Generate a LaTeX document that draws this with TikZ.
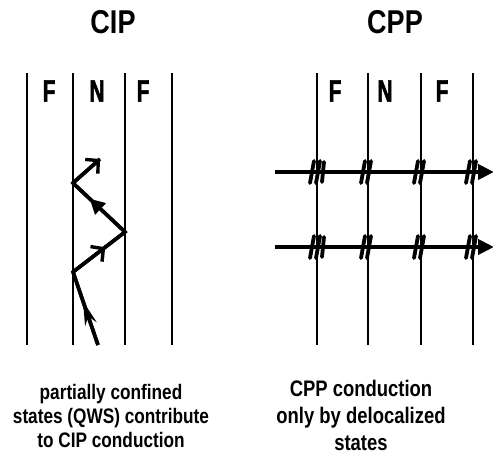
\documentclass[tikz,border=0pt]{standalone}
\usepackage{fontspec}
\setmainfont{Liberation Sans}[FakeStretch=0.82]
\newfontfamily\regionfont{Liberation Sans}[UprightFont={* Bold}, FakeStretch=0.66, FakeBold=2]
\usetikzlibrary{arrows.meta,decorations.markings}

\begin{document}
\begin{tikzpicture}[x=1pt,y=-1pt,
  layer/.style={line width=1.4pt},
  ray/.style={line width=3.6pt, line join=miter, line cap=butt},
  flow/.style={line width=4pt, -{Triangle[length=16pt,width=15pt]}},
  brk/.style={line width=3.8pt, line cap=round},
  title/.style={font=\bfseries\fontsize{33}{38}\selectfont},
  region/.style={font=\regionfont\fontsize{31}{34}\selectfont, inner sep=0pt},
  caption/.style={align=center, font=\bfseries\fontsize{21}{24}\selectfont},
  captionR/.style={align=center, font=\bfseries\fontsize{22.5}{27}\selectfont},
  midarrow/.style 2 args={postaction={decorate},
    decoration={markings, mark=at position #1 with {\arrow{#2}}}}
]
\useasboundingbox (0,0) rectangle (493,468);

% ---------- CIP geometry ----------
\node[title] (tcip) at (113,22) {CIP};
\foreach \x [count=\i] in {27,73,125,172} {
  \coordinate (ct\i) at (\x,73);
  \coordinate (cb\i) at (\x,345);
  \draw[layer] (ct\i) -- (cb\i);
}
\node[region] (cf1) at (49,91) {F};
\node[region] (cn)  at (97,91) {N};
\node[region] (cf2) at (143,91) {F};

% zigzag path of a partially confined state
\coordinate (z0) at (98,345);
\coordinate (z1) at (73,272);
\coordinate (z2) at (125,232);
\coordinate (z3) at (73,183);
\coordinate (z4) at (100,159);
\draw[ray] (z0) -- (z1) -- (z2) -- (z3) -- (z4);
\draw[ray, midarrow={0.6}{Stealth[length=24pt,width=12pt,inset=8pt]}] (z0) -- (z1);
\draw[ray, midarrow={0.62}{Straight Barb[length=9pt,width=19pt,line width=3.4pt]}] (z1) -- (z2);
\draw[ray, midarrow={0.68}{Triangle[length=15pt,width=15pt]}] (z2) -- (z3);
\draw[ray, -{Straight Barb[length=9pt,width=19pt,line width=3.4pt]}] (z3) -- (z4);

% ---------- CPP geometry ----------
\node[title] (tcpp) at (395,22) {CPP};
\foreach \x [count=\i] in {317,368,421,473} {
  \coordinate (pt\i) at (\x,73);
  \coordinate (pb\i) at (\x,345);
  \draw[layer] (pt\i) -- (pb\i);
}
\node[region] (pf1) at (335,91) {F};
\node[region] (pn)  at (385,91) {N};
\node[region] (pf2) at (442,91) {F};

% delocalized states crossing all interfaces
\coordinate (a0) at (275,172);
\coordinate (a1) at (494,172);
\coordinate (b0) at (275,247);
\coordinate (b1) at (494,247);
\draw[flow] (a0) -- (a1);
\draw[flow] (b0) -- (b1);
\foreach \x in {317,368,421,473} {
  \foreach \y in {172,247} {
    \draw[brk] (\x-7,\y+11) -- (\x-3,\y-11);
    \draw[brk] (\x-1,\y+11) -- (\x+3,\y-11);
  }
}
\foreach \y in {172,247} {
  \draw[brk] (317+5,\y+10) -- (317+7,\y-10);
}

% ---------- captions ----------
\node[caption] (capL) at (111,416) {partially confined\\states (QWS) contribute\\to CIP conduction};
\node[captionR] (capR) at (361,415) {CPP conduction\\only by delocalized\\states};
\end{tikzpicture}
\end{document}
